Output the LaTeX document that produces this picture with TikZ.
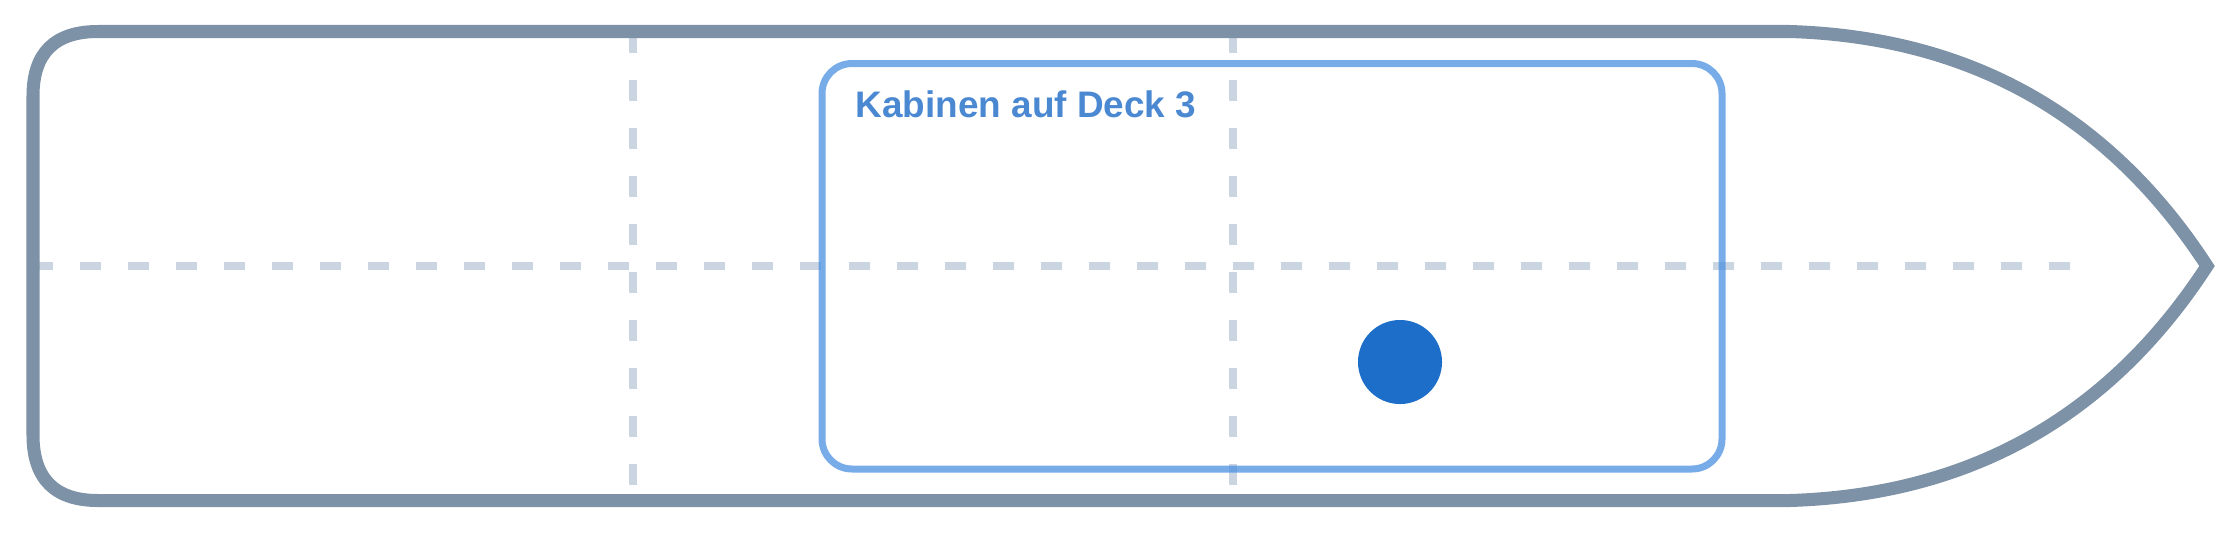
\documentclass[tikz,border=0pt]{standalone}
\usepackage{fontspec}
\usepackage{xcolor}
\newfontfamily\deckfont{Liberation Sans}
\definecolor{hullgray}{HTML}{7D91A7}
\definecolor{gridgray}{HTML}{CBD5E1}
\definecolor{cabinblue}{HTML}{4A90E2}
\definecolor{labelblue}{HTML}{4A88D2}
\definecolor{dotblue}{HTML}{1C6EC9}
\begin{document}
\begin{tikzpicture}[x=0.01cm,y=-0.01cm]

\tikzstyle{hull}=[draw=hullgray,line width=0.13cm,line join=miter]
\tikzstyle{gridline}=[draw=gridgray,line width=0.08cm,dash pattern=on 0.21cm off 0.27cm]
\tikzstyle{cabin}=[draw=cabinblue,draw opacity=0.75,line width=0.07cm,rounded corners=0.3cm]
\tikzstyle{decklabel}=[anchor=base west,inner sep=0pt,text=labelblue,font=\deckfont\bfseries\fontsize{10.5pt}{12pt}\selectfont]
\tikzstyle{marker}=[circle,fill=dotblue,minimum size=0.84cm,inner sep=0pt]

\useasboundingbox (0,0) rectangle (2240,533);

%% grid
\draw [gridline] (32,266) -- (2070,266);
\draw [gridline] (633,32) -- (633,500);
\draw [gridline] (1233,32) -- (1233,500);

%% ship outline
\draw [hull] (33,96) .. controls (33,53) and (54.7,31.5) .. (98,31.5) -- (1790,31.5)
    .. controls (1970,37.2) and (2109,115.3) .. (2207,266)
    .. controls (2109,416.7) and (1970,494.8) .. (1790,500.5) -- (98,500.5)
    .. controls (54.7,500.5) and (33,478.7) .. (33,435) -- cycle;

%% cabin area
\draw [cabin] (822,63.5) rectangle (1722,469);
\node (deck3) [decklabel] at (855,117) {Kabinen auf Deck 3};
\node (pos) [marker] at (1400,362) {};
\end{tikzpicture}
\end{document}
